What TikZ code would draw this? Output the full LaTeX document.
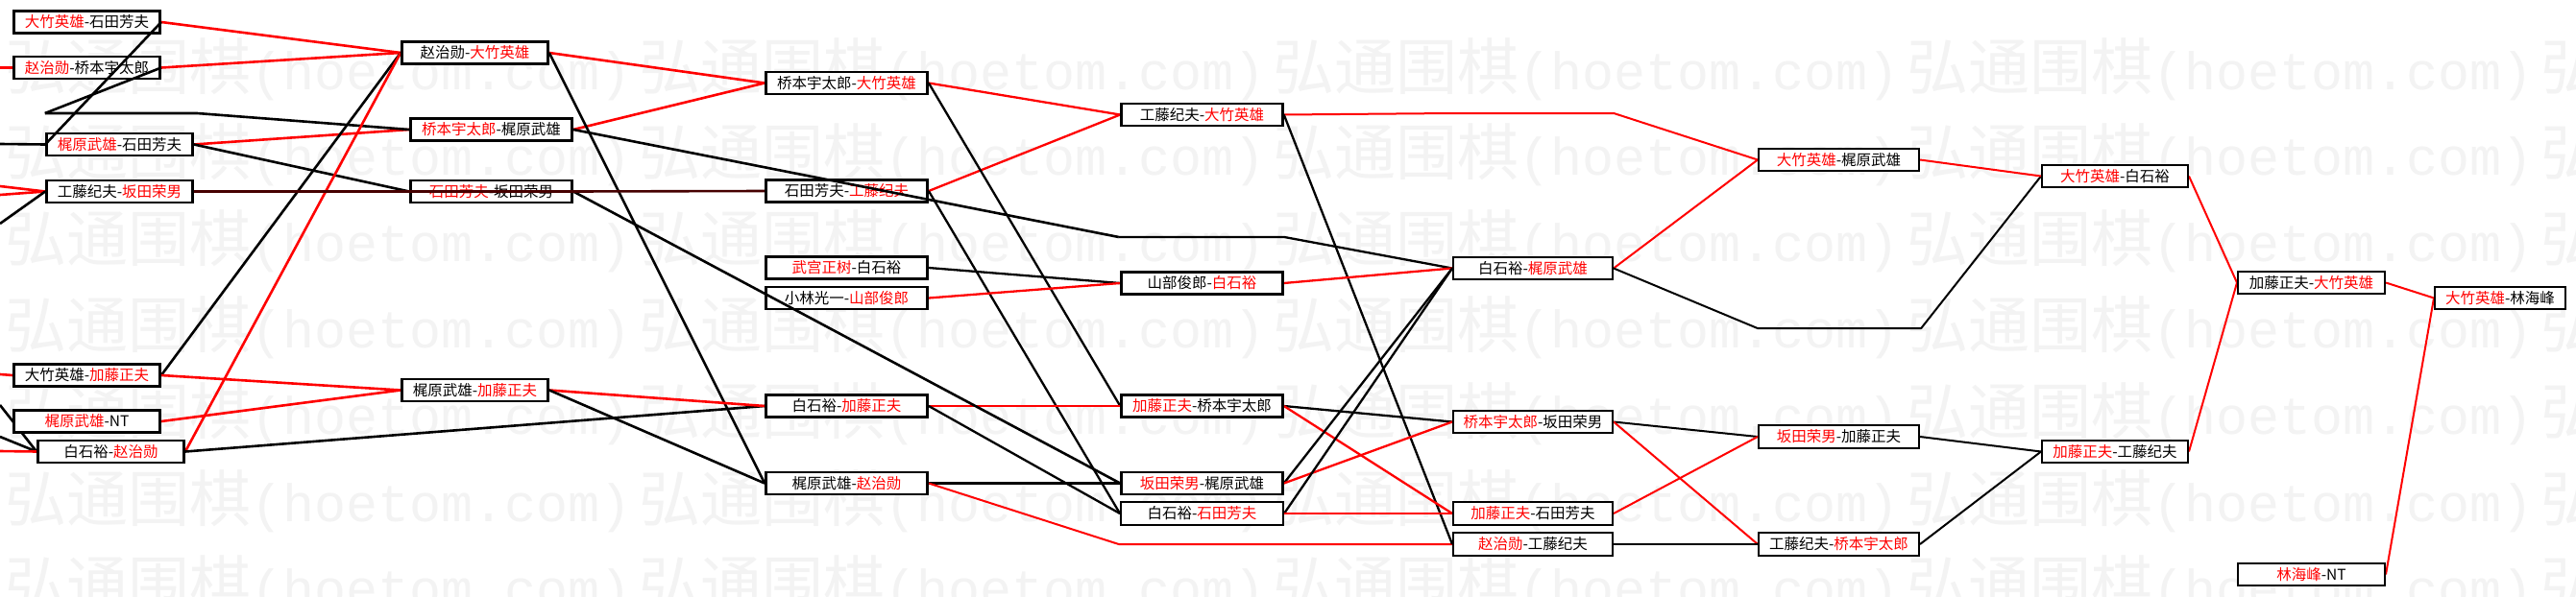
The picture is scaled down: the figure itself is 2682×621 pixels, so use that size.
\documentclass[tikz,border=0pt]{standalone}
\usepackage{fontspec}
\newfontfamily\cjkf{Noto Sans CJK SC}
\newfontfamily\wmmono{Liberation Mono}
\newcommand\rd[1]{\textcolor{red}{#1}}
\definecolor{darkline}{RGB}{70,0,0}
\definecolor{wmgray}{RGB}{243,243,243}
\pgfdeclarelayer{wmlayer}
\pgfdeclarelayer{under}
\pgfsetlayers{wmlayer,under,main}
\tikzset{
  nd/.style={draw=black, fill=white, line width=2.8pt, minimum height=23pt, inner sep=0pt,
    font=\cjkf\fontsize{15.5}{15.5}\selectfont, text=black},
  ndm/.style={nd, line width=2.5pt, minimum height=23pt},
  ndt/.style={nd, line width=2pt, minimum height=23.5pt},
  inv/.style={inner sep=0pt, minimum height=0pt, draw=none},
  bk/.style={draw=black, line width=2.6pt, line join=round},
  rdl/.style={draw=red, line width=2.6pt, line join=round},
  bkm/.style={draw=black, line width=2.3pt, line join=round},
  rdm/.style={draw=red, line width=2.3pt, line join=round},
  bkt/.style={draw=black, line width=2pt, line join=round},
  rdt/.style={draw=red, line width=2pt, line join=round},
  dk/.style={draw=darkline, line width=2.6pt},
  wm/.style={anchor=base west, inner sep=0pt, text=wmgray},
}
\begin{document}
\begin{tikzpicture}[x=1pt,y=-1pt]
\useasboundingbox (0,0) rectangle (2682,621);

% background and watermark
\begin{pgfonlayer}{wmlayer}
\fill[white] (0,0) rectangle (2682,621);
\begin{scope}
\clip (0,0) rectangle (2682,621);
\foreach \yy in {93,182,272,362,452,543,632}{
  \foreach \xx in {5,665,1325,1985,2645}{
    \node[wm] at (\xx,\yy) {{\cjkf\fontsize{64}{64}\selectfont 弘通围棋}{\wmmono\fontsize{55}{55}\selectfont (hoetom.com)}};
  }
}
\end{scope}
\end{pgfonlayer}

% column A / B
\node[nd, minimum width=152pt] (A1) at (90.5,23) {\rd{大竹英雄}-石田芳夫};
\node[nd, minimum width=152pt] (A2) at (90.5,70.5) {\rd{赵治勋}-桥本宇太郎};
\node[nd, minimum width=152pt] (A3) at (124.5,150.5) {\rd{梶原武雄}-石田芳夫};
\node[nd, minimum width=152pt] (A4) at (124.5,199.5) {工藤纪夫-\rd{坂田荣男}};
\node[inv, minimum width=158pt] (ainv) at (126,118) {};
\node[nd, minimum width=152pt] (B1) at (90.5,391) {大竹英雄-\rd{加藤正夫}};
\node[nd, minimum width=152pt] (B2) at (90.5,439) {\rd{梶原武雄}-NT};
\node[nd, minimum width=152pt] (B3) at (115.5,470.5) {白石裕-\rd{赵治勋}};
% column C
\node[nd, minimum width=152pt] (C1) at (494.5,55) {赵治勋-\rd{大竹英雄}};
\node[nd, minimum width=168pt] (C2) at (511.5,135) {\rd{桥本宇太郎}-梶原武雄};
\node[nd, minimum width=168pt] (C3) at (511.5,199.5) {\rd{石田芳夫}-坂田荣男};
\node[nd, minimum width=152pt] (C4) at (494.5,406.5) {梶原武雄-\rd{加藤正夫}};
% column D
\node[nd, minimum width=168pt] (D1) at (881.5,86.5) {桥本宇太郎-\rd{大竹英雄}};
\node[nd, minimum width=168pt] (D2) at (881.5,199) {石田芳夫-\rd{工藤纪夫}};
\node[nd, minimum width=168pt] (D3) at (881.5,279) {\rd{武宫正树}-白石裕};
\node[nd, minimum width=168pt] (D4) at (881.5,310.5) {小林光一-\rd{山部俊郎}};
\node[nd, minimum width=168pt] (D5) at (881.5,423) {白石裕-\rd{加藤正夫}};
\node[nd, minimum width=168pt] (D6) at (881.5,503.5) {梶原武雄-\rd{赵治勋}};
% column F
\node[ndm, minimum width=168pt] (F1) at (1251.5,119.5) {工藤纪夫-\rd{大竹英雄}};
\node[inv, minimum width=172pt] (finv1) at (1251,247) {};
\node[ndm, minimum width=168pt] (F2) at (1251.5,295) {山部俊郎-\rd{白石裕}};
\node[ndm, minimum width=168pt] (F3) at (1251.5,423) {\rd{加藤正夫}-桥本宇太郎};
\node[ndm, minimum width=168pt] (F4) at (1251.5,503.5) {\rd{坂田荣男}-梶原武雄};
\node[ndt, minimum width=169pt] (F5) at (1251.5,535) {白石裕-\rd{石田芳夫}};
\node[inv, minimum width=172pt] (finv2) at (1251,567) {};
% column G
\node[inv, minimum width=168pt] (ginv) at (1596,118) {};
\node[ndt, minimum width=166pt] (G1) at (1596,279.5) {白石裕-\rd{梶原武雄}};
\node[ndt, minimum width=166pt] (G2) at (1596,439.5) {\rd{桥本宇太郎}-坂田荣男};
\node[ndt, minimum width=166pt] (G3) at (1596,535) {\rd{加藤正夫}-石田芳夫};
\node[ndt, minimum width=166pt] (G4) at (1596,567) {\rd{赵治勋}-工藤纪夫};
% column H
\node[ndt, minimum width=167pt] (H1) at (1914.5,166.5) {\rd{大竹英雄}-梶原武雄};
\node[inv, minimum width=170pt] (hinv) at (1915,342) {};
\node[ndt, minimum width=167pt] (H2) at (1914.5,455) {\rd{坂田荣男}-加藤正夫};
\node[ndt, minimum width=167pt] (H3) at (1914.5,567) {工藤纪夫-\rd{桥本宇太郎}};
% columns I, J, K
\node[ndt, minimum width=152pt] (I1) at (2202,183.5) {\rd{大竹英雄}-白石裕};
\node[ndt, minimum width=152pt] (I2) at (2202,470.5) {\rd{加藤正夫}-工藤纪夫};
\node[ndt, minimum width=153pt] (J1) at (2406.5,294.5) {加藤正夫-\rd{大竹英雄}};
\node[ndt, minimum width=153pt] (J2) at (2406.5,598.5) {\rd{林海峰}-NT};
\node[ndt, minimum width=136pt] (K1) at (2603,310.5) {\rd{大竹英雄}-林海峰};

% free ends at the left edge
\coordinate (s1) at (0,70.5);
\coordinate (s2) at (0,150);
\coordinate (s3) at (0,194);
\coordinate (s4) at (0,203);
\coordinate (s5) at (0,233);
\coordinate (s6) at (0,390);
\coordinate (s7) at (0,422);
\coordinate (s8) at (0,455);
\coordinate (s9) at (0,470);

\begin{pgfonlayer}{under}
\draw[rdl] (s1) -- (A2.west);
\draw[bk] (s2) -- (A3.west);
\draw[rdl] (s3) -- (A4.west);
\draw[rdl] (s4) -- (A4.west);
\draw[bk] (s5) -- (A4.west);
\draw[rdl] (s6) -- (B1.west);
\draw[bk] (s7) -- (B3.west);
\draw[bk] (s8) -- (B3.west);
\draw[rdl] (s9) -- (B3.west);
% A/B -> C/D
\draw[rdl] (A1.east) -- (C1.west);
\draw[rdl] (A2.east) -- (C1.west);
\draw[rdl] (A3.east) -- (C2.west);
\draw[bk] (A3.east) -- (C3.west);
\draw[bk] (ainv.west) -- (ainv.east) -- (C2.west);
\draw[bk] (B1.east) -- (C1.west);
\draw[rdl] (B1.east) -- (C4.west);
\draw[rdl] (B2.east) -- (C4.west);
\draw[rdl] (B3.east) -- (C1.west);
\draw[bk] (B3.east) -- (D5.west);
% C -> D
\draw[rdl] (C1.east) -- (D1.west);
\draw[rdl] (C2.east) -- (D1.west);
\draw[bk] (C1.east) -- (D6.west);
\draw[rdl] (C4.east) -- (D5.west);
\draw[bk] (C4.east) -- (D6.west);
% D -> F
\draw[rdm] (D1.east) -- (F1.west);
\draw[rdm] (D2.east) -- (F1.west);
\draw[bkm] (D1.east) -- (F3.west);
\draw[bkm] (D2.east) -- (F5.west);
\draw[bkm] (D3.east) -- (F2.west);
\draw[rdm] (D4.east) -- (F2.west);
\draw[rdm] (D5.east) -- (F3.west);
\draw[bkm] (D5.east) -- (F5.west);
\draw[bkm] (D6.east) -- (F4.west);
\draw[rdt] (D6.east) -- (finv2.west) -- (finv2.east) -- (G4.west);
% F -> G
\draw[rdt] (F1.east) -- (ginv.west) -- (ginv.east) -- (H1.west);
\draw[bkm] (F1.east) -- (G4.west);
\draw[bkm] (finv1.west) -- (finv1.east) -- (G1.west);
\draw[rdm] (F2.east) -- (G1.west);
\draw[bkm] (F3.east) -- (G2.west);
\draw[rdm] (F3.east) -- (G3.west);
\draw[bkm] (F4.east) -- (G1.west);
\draw[rdm] (F4.east) -- (G2.west);
\draw[bkm] (F5.east) -- (G1.west);
\draw[rdt] (F5.east) -- (G3.west);
% G -> H
\draw[rdt] (G1.east) -- (H1.west);
\draw[bkt] (G1.east) -- (hinv.west) -- (hinv.east) -- (I1.west);
\draw[bkt] (G2.east) -- (H2.west);
\draw[rdt] (G2.east) -- (H3.west);
\draw[rdt] (G3.east) -- (H2.west);
\draw[bkt] (G4.east) -- (H3.west);
% H -> I -> J -> K
\draw[rdt] (H1.east) -- (I1.west);
\draw[bkt] (H2.east) -- (I2.west);
\draw[bkt] (H3.east) -- (I2.west);
\draw[rdt] (I1.east) -- (J1.west);
\draw[rdt] (I2.east) -- (J1.west);
\draw[rdt] (J1.east) -- (K1.west);
\draw[rdt] (J2.east) -- (K1.west);
\end{pgfonlayer}

% connectors drawn over the boxes
\draw[bk] (A1.east) -- (A3.west);
\draw[bk] (A2.east) -- (ainv.west);
\draw[bk] (C2.east) -- (finv1.west);
\draw[bk] (C3.east) -- (F4.west);
\draw[dk] (A4.east) -- (C3.west) -- (C3.east) -- (D2.west);
\end{tikzpicture}
\end{document}
